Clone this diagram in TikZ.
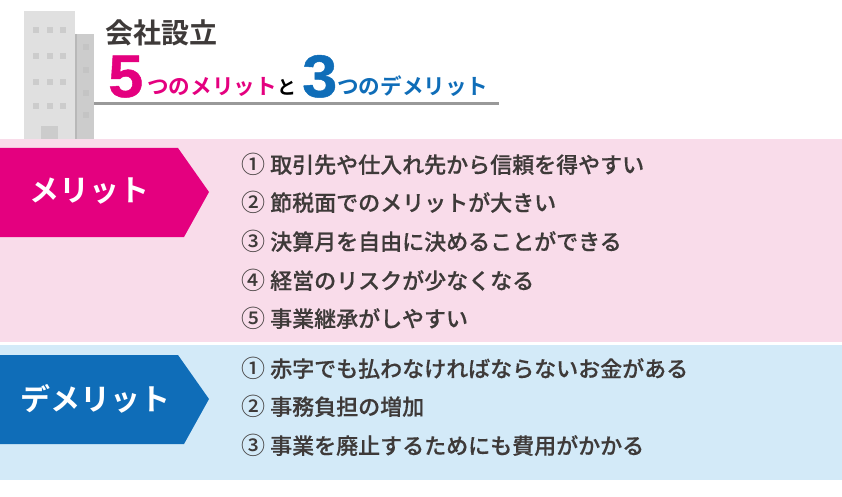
\documentclass[tikz,border=0pt]{standalone}
\usepackage{fontspec}
\usepackage{xcolor}
\setmainfont{Noto Sans CJK JP Medium}[BoldFont={Noto Sans CJK JP Bold}]
\newfontfamily\itemfont[FakeBold=0.35]{Noto Sans CJK JP Medium}
\newfontfamily\circfont{Noto Sans CJK JP Medium}
\newfontfamily\digitfont[FakeStretch=1.05,FakeBold=0.8]{Liberation Sans Bold}
\definecolor{pinkish}{HTML}{E4007F}
\definecolor{fillpink}{HTML}{F9DCEA}
\definecolor{bluish}{HTML}{0F6DB8}
\definecolor{fillblue}{HTML}{D3EAF8}
\definecolor{darktext}{HTML}{3E3A39}
\definecolor{wall}{HTML}{E0E0E0}
\definecolor{sidewall}{HTML}{CCCCCC}
\newcommand{\px}[1]{\fontsize{#1pt}{#1pt}\selectfont}
\newcommand{\numbered}[2]{{\circfont\px{24}#1}\hspace{5pt}#2}

\begin{document}
\begin{tikzpicture}[x=1pt, y=-1pt,
  item/.style={anchor=base west, inner sep=0pt, text=darktext, font=\itemfont\px{22}},
  tag/.style={anchor=center, inner sep=0pt, text=white, font=\bfseries\px{30}},
  head/.style={anchor=base west, inner sep=0pt, font=\bfseries\px{21.6}},
  bigdigit/.style={anchor=base west, inner sep=0pt, font=\digitfont\px{60}}]
  \useasboundingbox (0,0) rectangle (842,497);

  % Building
  \fill[wall] (24,11) rectangle (75,139);
  \fill[sidewall] (75,34) rectangle (94,139);
  \fill[black!28] (75,34) rectangle (77,139);
  \fill[sidewall] (41,126) rectangle (58,139);
  \foreach \wy in {27,53,79,103}
    \foreach \wx in {33,47,60}
      \fill[sidewall] (\wx,\wy) rectangle ++(6,6);
  \foreach \wy in {44,67,90,112}
    \fill[black!23] (83,\wy) rectangle ++(6,6);

  % Title
  \fill[black!40] (94,102) rectangle (499,105);
  \node[anchor=base west, inner sep=0pt, text=darktext, font=\bfseries\px{28}] (title) at (105.5,44) {会社設立};
  \node[bigdigit, text=pinkish] (five) at (108,97) {5};
  \node[head, text=pinkish] (fivetext) at (147,95) {つのメリット};
  \node[head, text=black, font=\bfseries\px{19}] (and) at (277,95) {と};
  \node[bigdigit, text=bluish] (three) at (302,97) {3};
  \node[head, text=bluish] (threetext) at (337,95) {つのデメリット};

  % Bands
  \fill[fillpink] (0,139) rectangle (842,342);
  \fill[fillblue] (0,345) rectangle (842,480);

  % Tags
  \fill[pinkish] (0,148) -- (178,148) -- (209,192) -- (184,237) -- (0,237) -- cycle;
  \fill[bluish] (0,355) -- (178,355) -- (209,399) -- (184,444) -- (0,444) -- cycle;
  \node[tag] (merit) at (89,191) {メリット};
  \node[tag] (demerit) at (95,399) {デメリット};

  % Merits
  \node[item] (m1) at (241,173) {\numbered{①}{取引先や仕入れ先から信頼を得やすい}};
  \node[item] (m2) at (241,211) {\numbered{②}{節税面でのメリットが大きい}};
  \node[item] (m3) at (241,250) {\numbered{③}{決算月を自由に決めることができる}};
  \node[item] (m4) at (241,289) {\numbered{④}{経営のリスクが少なくなる}};
  \node[item] (m5) at (241,327) {\numbered{⑤}{事業継承がしやすい}};

  % Demerits
  \node[item] (d1) at (241,377) {\numbered{①}{赤字でも払わなければならないお金がある}};
  \node[item] (d2) at (241,415) {\numbered{②}{事務負担の増加}};
  \node[item] (d3) at (241,454) {\numbered{③}{事業を廃止するためにも費用がかかる}};
\end{tikzpicture}
\end{document}
